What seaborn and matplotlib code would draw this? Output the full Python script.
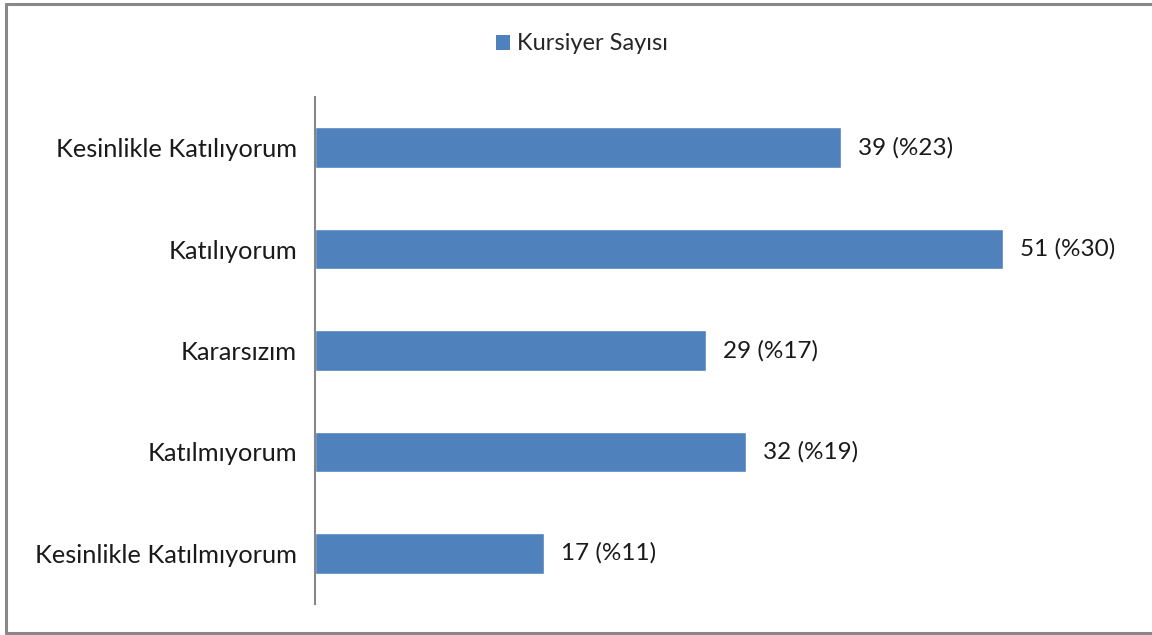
import matplotlib
matplotlib.use("Agg")
import matplotlib.pyplot as plt
import seaborn as sns
import pandas as pd
from matplotlib.lines import Line2D
from matplotlib.patches import Patch

categories = ["Kesinlikle Katılıyorum", "Katılıyorum", "Kararsızım", "Katılmıyorum", "Kesinlikle Katılmıyorum"]
counts = [39, 51, 29, 32, 17]
percents = [23, 30, 17, 19, 11]
series_name = "Kursiyer Sayısı"

sns.set_style("white")
plt.rcParams['font.family'] = ['Lato', 'DejaVu Sans']

W, H = 1152, 635
fig = plt.figure(figsize=(W/100, H/100), dpi=100)
ax = fig.add_axes([315/W, 1-604/H, (1124-315)/W, (604-97)/H])

df = pd.DataFrame({"cat": categories, "val": counts})
color = "#4F81BD"
sns.barplot(data=df, x="val", y="cat", orient="h", color=color, width=0.4,
            saturation=1, ax=ax, order=categories)

ax.set_xlim(0, 60)
ax.set_ylim(len(categories)-0.5, -0.5)
for s in ["top", "right", "bottom"]:
    ax.spines[s].set_visible(False)
ax.spines["left"].set_color("#868686")
ax.spines["left"].set_linewidth(1.5)
ax.set_xticks([])
ax.set_xlabel("")
ax.set_ylabel("")
ax.tick_params(axis="y", length=0, pad=13, labelsize=18.3)
for lbl in ax.get_yticklabels():
    lbl.set_color("#1a1a1a")

for i, (v, p) in enumerate(zip(counts, percents)):
    ax.text(v + 1.25, i, f"{v} (%{p})", va="center", ha="left", fontsize=17.5, color="#1a1a1a")

handles = [Patch(facecolor=color, edgecolor="none", label=series_name)]
fig.legend(handles=handles, loc="center", bbox_to_anchor=(582/W, 1-44/H), frameon=False,
           fontsize=17, handlelength=0.6, handleheight=0.6, handletextpad=0.3)

# outer border (no right side)
bc = "#888888"
fig.add_artist(Line2D([6/W, 6/W], [1-4/H, 1-633/H], transform=fig.transFigure, color=bc, lw=2.2))
fig.add_artist(Line2D([6/W, 1.0], [1-4/H, 1-4/H], transform=fig.transFigure, color=bc, lw=2.2))
fig.add_artist(Line2D([6/W, 1.0], [1-633/H, 1-633/H], transform=fig.transFigure, color=bc, lw=2.2))

fig.savefig("out.png", dpi=100, facecolor="white")
